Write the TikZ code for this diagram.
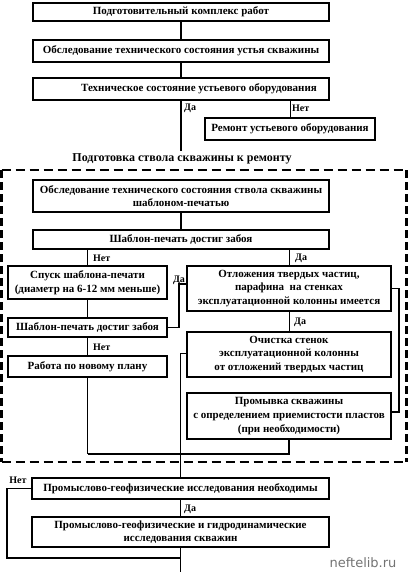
\documentclass[tikz,border=0pt]{standalone}
\usepackage{fontspec}
\setmainfont{Liberation Serif}
\newfontfamily\wmfont{DejaVu Sans}
\begin{document}
\begin{tikzpicture}[x=1pt,y=-1pt,
  box/.style={draw, line width=1.6pt, inner sep=0pt, align=center,
    font=\bfseries\fontsize{11}{13.6}\selectfont},
  lbl/.style={font=\bfseries\fontsize{10}{12}\selectfont, inner sep=0pt},
  thinln/.style={line width=0.9pt},
  thickln/.style={line width=1.6pt},
  hdash/.style={line width=1.2pt, dash pattern=on 9pt off 5pt},
  vdash/.style={line width=2.8pt, dash pattern=on 8pt off 4pt}]
\useasboundingbox (0,0) rectangle (408,572);

% top part
\node[box, minimum width=296pt, minimum height=18pt] (b1) at (181,12) {Подготовительный комплекс работ};
\node[box, minimum width=296pt, minimum height=22pt] (b2) at (181,51) {Обследование технического состояния устья скважины};
\node[box, minimum width=296pt, minimum height=22pt] (b3) at (181,89) {\hspace*{36pt}Техническое состояние устьевого оборудования};
\node[box, minimum width=170pt, minimum height=22pt] (rep) at (290,129) {Ремонт устьевого оборудования};
\coordinate (c1) at (181,151);
\node[font=\bfseries\fontsize{12}{13}\selectfont, inner sep=0pt] (stage) at (182,159) {Подготовка ствола скважины к ремонту};

\draw[thickln] (b1.south) -- (b2.north);
\draw[thickln] (b2.south) -- (b3.north);
\draw[thickln] (b3.south) -- (c1);
\draw[thinln] (rep.north |- b3.south) -- (rep.north);
\node[lbl, anchor=west] (da1) at (184,108) {Да};
\node[lbl, anchor=west] (net1) at (292,108) {Нет};

% dashed frame
\coordinate (f1) at (1.5,170);
\coordinate (f2) at (406.5,170);
\coordinate (f3) at (406.5,462);
\coordinate (f4) at (1.5,462);
\draw[hdash] (f1) -- (f2);
\draw[hdash] (f4) -- (f3);
\draw[vdash] (f1) -- (f4);
\draw[vdash] (f2) -- (f3);

% inside frame
\node[box, minimum width=296pt, minimum height=32pt] (b7) at (181,196) {Обследование технического состояния ствола скважины\\шаблоном-печатью};
\node[box, minimum width=296pt, minimum height=19pt] (b8) at (181,239.5) {Шаблон-печать достиг забоя};
\node[box, minimum width=159pt, minimum height=33pt] (b9) at (87.5,282.5) {Спуск шаблона-печати\\(диаметр на 6-12 мм меньше)};
\node[box, minimum width=204pt, minimum height=45pt] (b10) at (289,288.5) {Отложения твердых частиц,\\парафина \ на стенках\\эксплуатационной колонны имеется};
\node[box, minimum width=159pt, minimum height=19pt] (b11) at (87.5,327.5) {Шаблон-печать достиг забоя};
\node[box, minimum width=159pt, minimum height=21pt] (b12) at (87.5,366.5) {Работа по новому плану};
\node[box, minimum width=204pt, minimum height=45pt] (b13) at (289,354.5) {Очистка стенок\\эксплуатационной колонны\\от отложений твердых частиц};
\node[box, minimum width=204pt, minimum height=46pt] (b14) at (289,416) {Промывка скважины\\с определением приемистости пластов\\(при необходимости)};

\draw[thickln] (b7.south) -- (b8.north);
\draw[thinln] (b9.north |- b8.south) -- (b9.north);
\draw[thinln] (b10.north |- b8.south) -- (b10.north);
\node[lbl, anchor=west] (net2) at (93,258) {Нет};
\node[lbl, anchor=west] (da2) at (295,258) {Да};
\draw[thinln] (b9.south) -- (b11.north);
\draw[thickln] (b11.east) -- ++(11,0) |- ([yshift=4.5pt]b10.west);
\node[lbl] (da3) at (179,280) {Да};
\draw[thinln] (b11.south) -- (b12.north);
\node[lbl, anchor=west] (net3) at (93,347) {Нет};
\draw[thinln] (b10.south) -- (b13.north);
\node[lbl, anchor=west] (da4) at (294,322) {Да};
\draw[thickln] (b10.east) -- ++(7,0) |- ([yshift=4pt]b14.east);
\coordinate (j1) at (87.5,454);
\draw[thinln] (b12.south) -- (j1);
\draw[thickln] (j1) -| (b14.south);

% bottom part
\node[box, minimum width=297pt, minimum height=21pt] (b15) at (180.5,488.5) {Промыслово-геофизические исследования необходимы};
\node[box, minimum width=297pt, minimum height=30pt] (b16) at (180.5,532) {Промыслово-геофизические и гидродинамические\\исследования скважин};
\draw[thinln] ([yshift=1.5pt]b13.west) -| (b15.north);
\draw[thinln] (b15.south) -- (b16.north);
\node[lbl, anchor=west] (da5) at (184,509) {Да};
\coordinate (end) at (180.5,572);
\coordinate (j2) at (180.5,558);
\draw[thinln] (b16.south) -- (end);
\draw[thickln] (b15.west) -- ++(-24,0) |- (j2);
\node[lbl] (net4) at (18,480) {Нет};

\node[font=\wmfont\fontsize{13}{15}\selectfont, text=black!55, inner sep=0pt] (wm) at (363,563) {neftelib.ru};
\end{tikzpicture}
\end{document}
